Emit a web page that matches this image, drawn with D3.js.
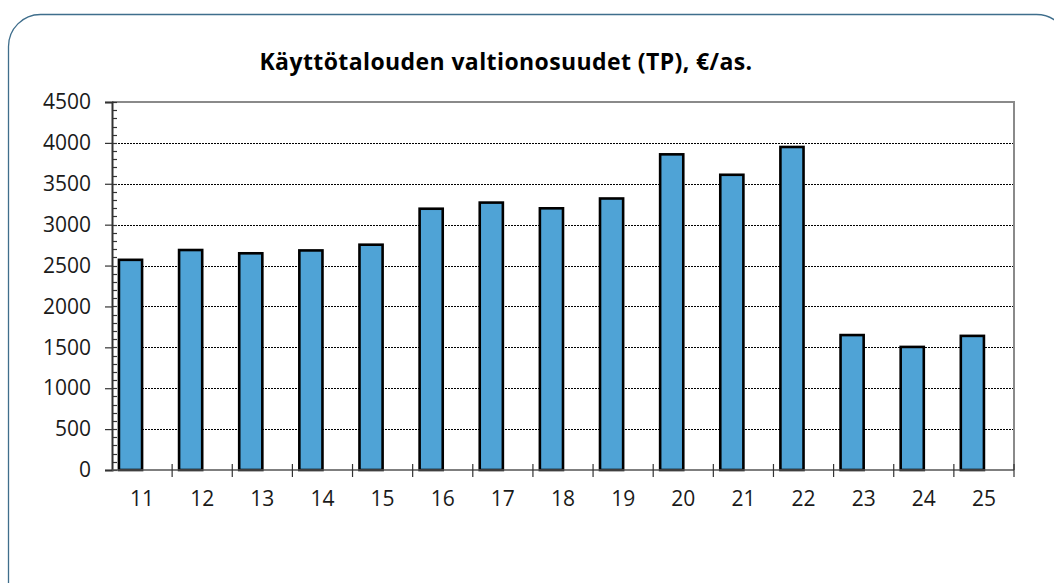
<!DOCTYPE html>
<html>
<head>
<meta charset="utf-8">
<script src="https://cdn.jsdelivr.net/npm/d3@7"></script>
<style>
  body { margin: 0; background: #fff; }
  svg { display: block; }
</style>
</head>
<body>
<svg width="1054" height="583"></svg>
<script>
// Chart data
const title = "Käyttötalouden valtionosuudet (TP), €/as.";
const categories = ["11", "12", "13", "14", "15", "16", "17", "18", "19", "20", "21", "22", "23", "24", "25"];
const values = [2570, 2690, 2650, 2685, 2755, 3195, 3270, 3200, 3320, 3860, 3610, 3950, 1650, 1505, 1640];
const yTicks = [0, 500, 1000, 1500, 2000, 2500, 3000, 3500, 4000, 4500];

const width = 1054;
const height = 583;
const margin = { top: 102, right: 40, bottom: 113, left: 112 };
const font = "'Open Sans', sans-serif";

const svg = d3.select("svg");

// Outer rounded frame
svg.append("rect")
  .attr("x", 8.5)
  .attr("y", 14.5)
  .attr("width", 1060)
  .attr("height", 620)
  .attr("rx", 32)
  .attr("fill", "none")
  .attr("stroke", "#3f6e8c")
  .attr("stroke-width", 1.3);

// Title
svg.append("text")
  .attr("x", 506)
  .attr("y", 70)
  .attr("text-anchor", "middle")
  .attr("font-family", font)
  .attr("font-weight", "bold")
  .attr("font-size", 23)
  .attr("letter-spacing", 0.4)
  .attr("fill", "#000")
  .text(title);

const x0 = margin.left;
const x1 = width - margin.right;
const y0 = height - margin.bottom;
const y1 = margin.top;

// Scales
const xScale = d3.scaleBand()
  .domain(categories)
  .range([x0, x1]);

// the source chart has a second empty series, bars sit in the left slot
const slot = d3.scaleBand()
  .domain(["a", "b"])
  .range([0, xScale.bandwidth()])
  .paddingOuter(0.3)
  .paddingInner(0);

const yScale = d3.scaleLinear()
  .domain([0, 4500])
  .range([y0, y1]);

// Gridlines
svg.append("g")
  .selectAll("line")
  .data(yTicks.filter((d) => d > 0 && d < 4500))
  .enter()
  .append("line")
  .attr("x1", x0)
  .attr("x2", x1)
  .attr("y1", (d) => Math.round(yScale(d)) + 0.5)
  .attr("y2", (d) => Math.round(yScale(d)) + 0.5)
  .attr("stroke", "#000")
  .attr("stroke-width", 1)
  .attr("stroke-dasharray", "2,1");

// Plot area top and right border
svg.append("path")
  .attr("d", `M${x0},${y1} H${x1} V${y0}`)
  .attr("fill", "none")
  .attr("stroke", "#8a8a8a")
  .attr("stroke-width", 2);

// Bars
svg.append("g")
  .selectAll("rect")
  .data(values)
  .enter()
  .append("rect")
  .attr("x", (d, i) => xScale(categories[i]) + slot("a"))
  .attr("y", (d) => yScale(d))
  .attr("width", slot.bandwidth())
  .attr("height", (d) => yScale(0) - yScale(d))
  .attr("fill", "#4fa3d6")
  .attr("stroke", "#000")
  .attr("stroke-width", 2.6);

// Y axis: minor ticks every 100 inside, major ticks outside
const minor = d3.range(0, 4501, 100);
svg.append("g")
  .selectAll("line")
  .data(minor)
  .enter()
  .append("line")
  .attr("x1", x0)
  .attr("x2", x0 + 5)
  .attr("y1", (d) => Math.round(yScale(d)) + 0.5)
  .attr("y2", (d) => Math.round(yScale(d)) + 0.5)
  .attr("stroke", "#333")
  .attr("stroke-width", 1.2);

const yAxis = d3.axisLeft(yScale)
  .tickValues(yTicks)
  .tickSize(7)
  .tickPadding(14)
  .tickFormat(d3.format("d"));

const gy = svg.append("g")
  .attr("transform", `translate(${x0}, 0)`)
  .call(yAxis);
gy.select(".domain").attr("stroke", "#333").attr("stroke-width", 2);
gy.selectAll(".tick line").attr("stroke", "#333").attr("stroke-width", 1.2);
gy.selectAll("text")
  .attr("font-family", font)
  .attr("font-size", 21)
  .attr("fill", "#1a1a1a");

// X axis
const gx = svg.append("g")
  .attr("transform", `translate(0, ${y0})`);
gx.append("line")
  .attr("x1", x0)
  .attr("x2", x1)
  .attr("y1", 0)
  .attr("y2", 0)
  .attr("stroke", "#555")
  .attr("stroke-width", 1.5);
gx.selectAll("line.tk")
  .data(categories.slice(1).concat(["end"]))
  .enter()
  .append("line")
  .attr("class", "tk")
  .attr("x1", (d, i) => x0 + (i + 1) * xScale.step())
  .attr("x2", (d, i) => x0 + (i + 1) * xScale.step())
  .attr("y1", -6)
  .attr("y2", 7)
  .attr("stroke", "#333")
  .attr("stroke-width", 1.2);
gx.selectAll("text")
  .data(categories)
  .enter()
  .append("text")
  .attr("x", (d) => xScale(d) + xScale.bandwidth() / 2)
  .attr("y", 36)
  .attr("text-anchor", "middle")
  .attr("font-family", font)
  .attr("font-size", 21)
  .attr("fill", "#1a1a1a")
  .text((d) => d);
</script>
</body>
</html>
